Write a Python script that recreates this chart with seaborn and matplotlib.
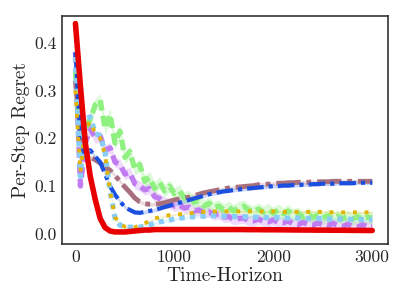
import matplotlib
matplotlib.use("Agg")
import matplotlib.pyplot as plt
import seaborn as sns
import pandas as pd

steps = list(range(0, 3001, 50))

red = [0.44, 0.31, 0.19, 0.12, 0.072, 0.032, 0.013, 0.006, 0.004, 0.004,
       0.004, 0.005, 0.006, 0.007, 0.008, 0.008, 0.009, 0.009, 0.009, 0.009,
       0.009, 0.009, 0.009, 0.009, 0.009, 0.009, 0.009, 0.009, 0.009, 0.009,
       0.009, 0.009, 0.009, 0.009, 0.009, 0.0088, 0.0088, 0.0088, 0.0086, 0.0086,
       0.0086, 0.0085, 0.0084, 0.0083, 0.0082, 0.0081, 0.008, 0.008, 0.0079, 0.0078,
       0.0078, 0.0077, 0.0076, 0.0076, 0.0075, 0.0074, 0.0073, 0.0072, 0.0072, 0.0071,
       0.007]

blue = [0.38, 0.2, 0.16, 0.175, 0.162, 0.15, 0.125, 0.1, 0.082, 0.068,
        0.056, 0.05, 0.045, 0.044, 0.046, 0.048, 0.05, 0.053, 0.056, 0.059,
        0.062, 0.065, 0.068, 0.071, 0.074, 0.077, 0.08, 0.083, 0.085, 0.087,
        0.089, 0.09, 0.092, 0.093, 0.094, 0.095, 0.096, 0.097, 0.098, 0.099,
        0.1, 0.1, 0.101, 0.101, 0.102, 0.102, 0.103, 0.103, 0.104, 0.104,
        0.105, 0.105, 0.105, 0.106, 0.106, 0.106, 0.106, 0.107, 0.107, 0.107,
        0.107]

brown = [0.32, 0.2, 0.17, 0.16, 0.155, 0.148, 0.14, 0.133, 0.122, 0.11,
         0.098, 0.087, 0.075, 0.067, 0.063, 0.062, 0.062, 0.063, 0.065, 0.068,
         0.071, 0.073, 0.075, 0.077, 0.08, 0.083, 0.086, 0.088, 0.09, 0.092,
         0.094, 0.096, 0.097, 0.098, 0.099, 0.1, 0.101, 0.103, 0.104, 0.104,
         0.105, 0.106, 0.106, 0.107, 0.107, 0.108, 0.108, 0.108, 0.109, 0.109,
         0.109, 0.109, 0.11, 0.11, 0.11, 0.11, 0.11, 0.11, 0.11, 0.11,
         0.11]

green = [0.34, 0.2, 0.22, 0.24, 0.27, 0.28, 0.22, 0.25, 0.19, 0.215,
         0.16, 0.172, 0.135, 0.145, 0.11, 0.118, 0.095, 0.108, 0.09, 0.1,
         0.084, 0.09, 0.075, 0.078, 0.066, 0.07, 0.058, 0.064, 0.055, 0.058,
         0.05, 0.056, 0.048, 0.055, 0.058, 0.05, 0.046, 0.052, 0.045, 0.051,
         0.043, 0.05, 0.042, 0.048, 0.04, 0.043, 0.035, 0.041, 0.034, 0.039,
         0.033, 0.038, 0.032, 0.037, 0.032, 0.036, 0.031, 0.036, 0.031, 0.035,
         0.033]

purple = [0.38, 0.1, 0.19, 0.22, 0.2, 0.205, 0.175, 0.18, 0.15, 0.145,
          0.125, 0.128, 0.105, 0.1, 0.092, 0.095, 0.078, 0.074, 0.066, 0.064,
          0.058, 0.06, 0.054, 0.056, 0.048, 0.05, 0.044, 0.046, 0.04, 0.042,
          0.035, 0.036, 0.03, 0.032, 0.033, 0.028, 0.027, 0.031, 0.026, 0.025,
          0.029, 0.024, 0.023, 0.027, 0.021, 0.019, 0.024, 0.02, 0.018, 0.023,
          0.019, 0.017, 0.022, 0.018, 0.015, 0.02, 0.016, 0.014, 0.019, 0.015,
          0.016]

lightblue = [0.37, 0.12, 0.24, 0.245, 0.21, 0.205, 0.17, 0.09, 0.033, 0.018,
             0.014, 0.014, 0.014, 0.014, 0.016, 0.019, 0.022, 0.025, 0.027, 0.029,
             0.031, 0.033, 0.034, 0.035, 0.036, 0.037, 0.037, 0.038, 0.038, 0.037,
             0.037, 0.037, 0.036, 0.036, 0.036, 0.035, 0.035, 0.035, 0.034, 0.034,
             0.034, 0.034, 0.033, 0.033, 0.033, 0.033, 0.032, 0.032, 0.032, 0.032,
             0.032, 0.031, 0.031, 0.031, 0.031, 0.031, 0.030, 0.030, 0.030, 0.030,
             0.030]

yellow = [0.3, 0.13, 0.22, 0.235, 0.21, 0.2, 0.165, 0.088, 0.035, 0.02,
          0.015, 0.014, 0.014, 0.017, 0.022, 0.027, 0.032, 0.035, 0.037, 0.039,
          0.04, 0.041, 0.042, 0.043, 0.044, 0.045, 0.046, 0.046, 0.047, 0.047,
          0.047, 0.047, 0.047, 0.047, 0.047, 0.047, 0.047, 0.047, 0.047, 0.047,
          0.047, 0.047, 0.046, 0.046, 0.046, 0.046, 0.046, 0.046, 0.046, 0.046,
          0.046, 0.046, 0.045, 0.045, 0.045, 0.045, 0.045, 0.045, 0.045, 0.045,
          0.045]

# (values, band half-width, colour, linewidth, linestyle, band alpha)
series = {
    "purple": (purple, 0.011, "#c27cf2", 3.8, (0, (2.0, 1.0)), 0.28),
    "green": (green, 0.013, "#8ef07f", 3.8, (0, (2.0, 1.0)), 0.3),
    "brown": (brown, 0.004, "#a8707c", 3.5, (0, (5, 1.2, 1, 1.2)), 0.25),
    "blue": (blue, 0.004, "#1a4fe0", 3.0, (0, (4, 1.2, 1, 1.2)), 0.22),
    "lightblue": (lightblue, 0.003, "#87cdf5", 3.8, (0, (1, 1)), 0.22),
    "yellow": (yellow, 0.002, "#e0b400", 2.8, (0, (1, 2)), 0.22),
    "red": (red, 0.002, "#e80000", 4.0, "-", 0.22),
}

sns.set_theme(style="white")
plt.rcParams["font.family"] = ["cmr10", "DejaVu Serif"]
plt.rcParams["axes.formatter.use_mathtext"] = True
plt.rcParams["mathtext.fontset"] = "cm"

fig = plt.figure(figsize=(3.98, 3.0), dpi=100)
ax = fig.add_axes([0.156, 0.187, 0.819, 0.760])

for name, (vals, band, col, lw, ls, a) in series.items():
    df = pd.DataFrame({"t": steps, "v": vals})
    lo = [v - band for v in vals]
    hi = [v + band for v in vals]
    ax.fill_between(steps, lo, hi, color=col, alpha=a, lw=0)
    sns.lineplot(data=df, x="t", y="v", ax=ax, color=col, lw=lw,
                 linestyle=ls, errorbar=None)

ax.set_xlim(-135, 3160)
ax.set_ylim(-0.021, 0.456)
ax.set_xticks([0, 1000, 2000, 3000])
ax.set_yticks([0.0, 0.1, 0.2, 0.3, 0.4])
ax.set_xticklabels(["0", "1000", "2000", "3000"])
ax.set_yticklabels(["0.0", "0.1", "0.2", "0.3", "0.4"])
ax.tick_params(labelsize=12.6, length=0, pad=4)
ax.set_xlabel("Time-Horizon", fontsize=14, labelpad=2)
ax.set_ylabel("Per-Step Regret", fontsize=14, labelpad=3)
for s in ax.spines.values():
    s.set_color("#333333")
    s.set_linewidth(1.2)

fig.savefig("out.png", dpi=100)
